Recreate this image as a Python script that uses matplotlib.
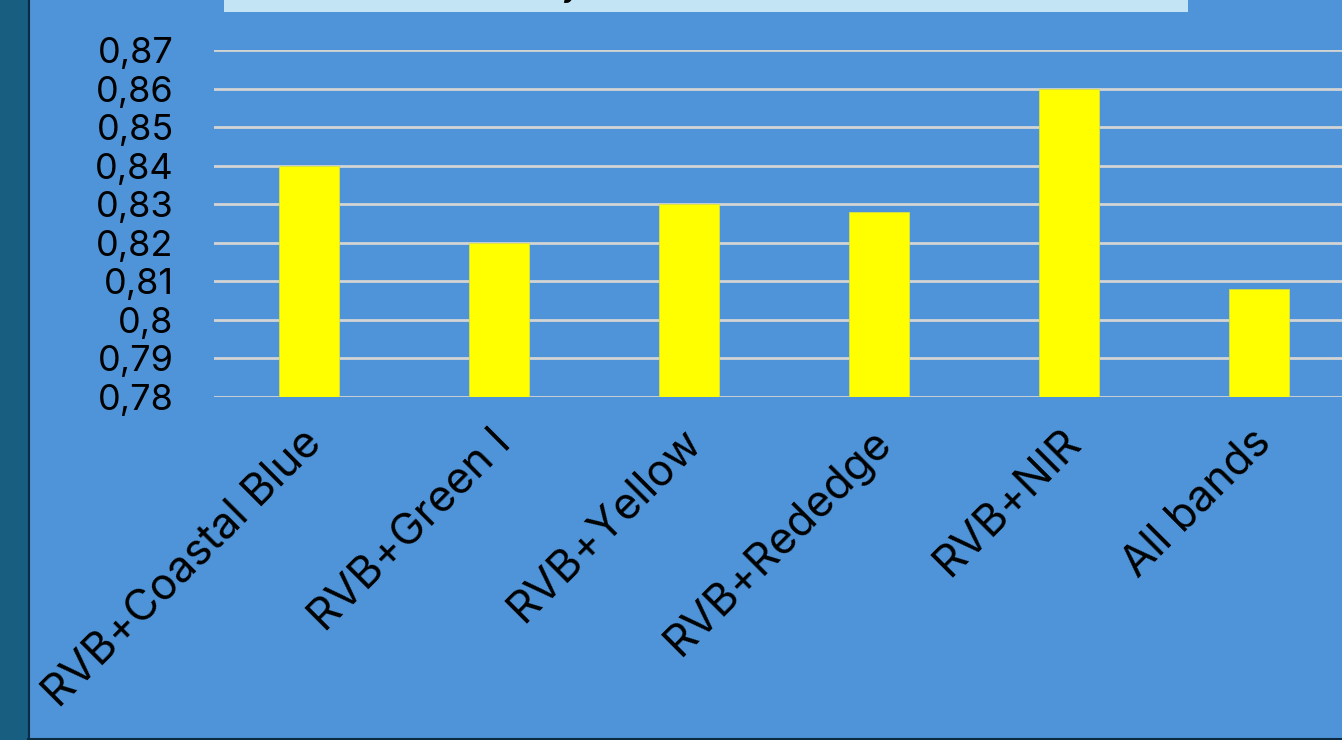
import matplotlib
matplotlib.use("Agg")
import matplotlib.pyplot as plt
import matplotlib.transforms as mtransforms
from matplotlib.patches import Rectangle
from matplotlib.lines import Line2D
from matplotlib.ticker import FuncFormatter

# ─── data ─────────────────────────────────────────────────────────────────────
categories = ["RVB+Coastal Blue", "RVB+Green I", "RVB+Yellow",
              "RVB+Rededge", "RVB+NIR", "All bands"]
values = [0.840, 0.820, 0.830, 0.828, 0.860, 0.808]
yticks = [0.78, 0.79, 0.80, 0.81, 0.82, 0.83, 0.84, 0.85, 0.86, 0.87]

BG = "#4F94D8"
W, H = 1342, 740

plt.rcParams["font.family"] = ["Inter", "DejaVu Sans"]

fig = plt.figure(figsize=(W / 100, H / 100), dpi=100, facecolor=BG)

# ─── decorations outside the plot ─────────────────────────────────────────────
fig.patches.append(Rectangle((0, 0), 28 / W, 1, transform=fig.transFigure,
                             facecolor="#175E80", edgecolor="none", zorder=0))
fig.lines.append(Line2D([28.5 / W, 28.5 / W], [0, 1], transform=fig.transFigure,
                        color="#0B2B42", linewidth=1.5))
fig.lines.append(Line2D([28 / W, 1], [1 / H, 1 / H], transform=fig.transFigure,
                        color="#0B2B42", linewidth=1.5))
fig.patches.append(Rectangle((224 / W, 1 - 12 / H), 964 / W, 12 / H,
                             transform=fig.transFigure,
                             facecolor="#C2E4F4", edgecolor="none", zorder=0))
fig.text(582 / W, 1 + 5 / H, "Accuracy", ha="right", va="baseline",
         fontsize=27, color="black")

# ─── bar chart ────────────────────────────────────────────────────────────────
ax = fig.add_axes([214 / W, (H - 397) / H, 1140 / W, 347 / H])
ax.set_facecolor(BG)
x = range(len(categories))
ax.bar(x, values, width=0.316, color="#FFFF00", edgecolor="#D8E040",
       linewidth=0.6, zorder=3)

ax.set_xlim(-0.5, len(categories) - 0.5)
ax.set_ylim(yticks[0], yticks[-1])
ax.set_yticks(yticks)
ax.yaxis.set_major_formatter(FuncFormatter(
    lambda v, p: f"{v:.2f}".rstrip("0").replace(".", ",")))
ax.grid(axis="y", color="#D4D4D4", linewidth=2, zorder=1)
ax.set_axisbelow(True)
for s in ax.spines.values():
    s.set_visible(False)

ax.tick_params(axis="y", length=0, pad=29, labelsize=26, labelcolor="black")
ax.tick_params(axis="x", length=0, pad=22)
ax.set_xticks(list(x))
ax.set_xticklabels(categories, rotation=45, ha="right", va="top",
                   rotation_mode="anchor", fontsize=31.5)
shift = mtransforms.ScaledTranslation(-9 / 100, 6 / 100, fig.dpi_scale_trans)
for lbl in ax.get_xticklabels():
    lbl.set_transform(lbl.get_transform() + shift)

fig.savefig("out.png", dpi=100, facecolor=BG)
